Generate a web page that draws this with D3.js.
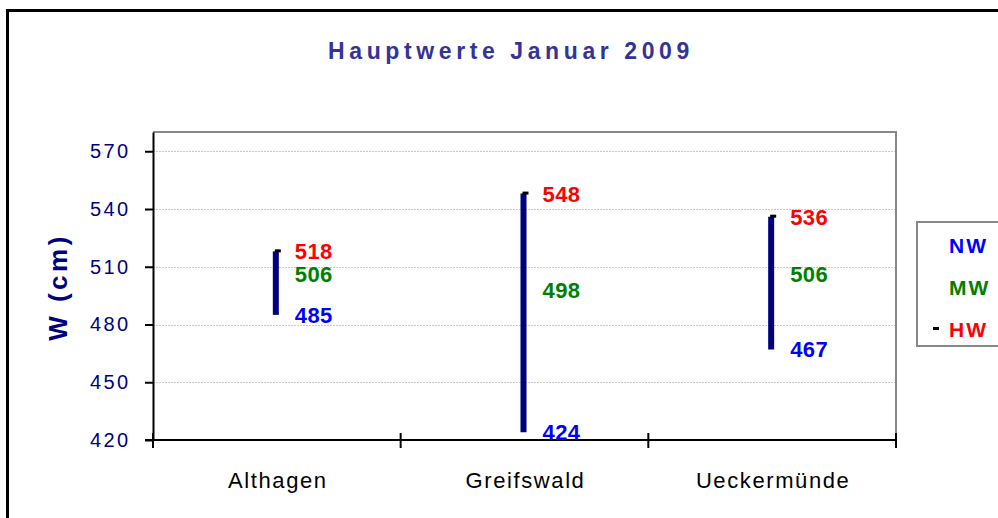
<!DOCTYPE html>
<html>
<head>
<meta charset="utf-8">
<script src="https://cdn.jsdelivr.net/npm/d3@7"></script>
<style>
  body { margin: 0; background: #fff; }
  svg { display: block; font-family: Arial, "Liberation Sans", sans-serif; }
</style>
</head>
<body>
<div id="chart_div"></div>
<script>
// data
var stations = ['Althagen', 'Greifswald', 'Ueckermünde'];
var nwValues = [485, 424, 467];   // Niedrigwasser
var mwValues = [506, 498, 506];   // Mittelwasser
var hwValues = [518, 548, 536];   // Hochwasser
var yTicks = [420, 450, 480, 510, 540, 570];
var legendLabels = ['NW', 'MW', 'HW'];
var legendColors = ['#0000ff', '#008000', '#ff0000'];

var svg_width = 998,
    svg_height = 518,
    plot_left = 153,
    plot_right = 896,
    plot_top = 132,
    plot_bottom = 440;

var svg = d3.select('#chart_div')
  .append('svg')
  .attr('width', svg_width)
  .attr('height', svg_height);

// outer chart frame (runs off the right and bottom edges)
svg.append('rect')
  .attr('x', 7.5)
  .attr('y', 10.5)
  .attr('width', 1010)
  .attr('height', 530)
  .attr('fill', 'none')
  .attr('stroke', '#000')
  .attr('stroke-width', 3);

// title
svg.append('text')
  .attr('x', 511)
  .attr('y', 59)
  .attr('text-anchor', 'middle')
  .attr('fill', '#333399')
  .style('font-size', '23px')
  .style('font-weight', 'bold')
  .style('letter-spacing', '4.6px')
  .text('Hauptwerte Januar 2009');

// scales
var x = d3.scaleBand()
  .domain(stations)
  .range([plot_left, plot_right])
  .padding(0);

var y = d3.scaleLinear()
  .domain([420, 580])
  .range([plot_bottom, plot_top]);

// plot area frame (top + right in grey)
svg.append('path')
  .attr('d', 'M' + plot_left + ',' + plot_top + 'H' + plot_right + 'V' + plot_bottom)
  .attr('fill', 'none')
  .attr('stroke', '#888')
  .attr('stroke-width', 2);

// gridlines
svg.append('g')
  .selectAll('line')
  .data(yTicks.slice(1))
  .enter().append('line')
  .attr('x1', plot_left)
  .attr('x2', plot_right - 1)
  .attr('y1', function (d) { return Math.round(y(d)) + 0.5; })
  .attr('y2', function (d) { return Math.round(y(d)) + 0.5; })
  .attr('stroke', '#c8c8c8')
  .attr('stroke-dasharray', '2,1');

// y axis
var yAxis = svg.append('g')
  .attr('transform', 'translate(' + plot_left + ',0)')
  .call(d3.axisLeft(y).tickValues(yTicks).tickSize(8).tickSizeOuter(0).tickPadding(17));
yAxis.select('.domain').attr('stroke', '#000').attr('stroke-width', 2);
yAxis.selectAll('.tick line').attr('stroke', '#000').attr('stroke-width', 2);
yAxis.selectAll('.tick text')
  .attr('fill', '#000080')
  .attr('dx', '2.3px')
  .style('font-size', '20px')
  .style('font-family', 'Arial, "Liberation Sans", sans-serif')
  .style('letter-spacing', '2.3px');

// y axis title
svg.append('text')
  .attr('transform', 'translate(67,287) rotate(-90)')
  .attr('text-anchor', 'middle')
  .attr('fill', '#000080')
  .style('font-size', '26px')
  .style('font-weight', 'bold')
  .style('letter-spacing', '3.5px')
  .text('W (cm)');

// x axis line + ticks at the band edges
var xAxis = svg.append('g');
xAxis.append('line')
  .attr('x1', plot_left - 8)
  .attr('x2', plot_right)
  .attr('y1', plot_bottom)
  .attr('y2', plot_bottom)
  .attr('stroke', '#000')
  .attr('stroke-width', 2);
var edges = stations.map(function (d) { return x(d); }).concat([x.range()[1]]);
xAxis.selectAll('line.tick')
  .data(edges)
  .enter().append('line')
  .classed('tick', true)
  .attr('x1', function (d) { return d; })
  .attr('x2', function (d) { return d; })
  .attr('y1', plot_bottom - 7)
  .attr('y2', plot_bottom + 8)
  .attr('stroke', '#000')
  .attr('stroke-width', 2);
xAxis.selectAll('text')
  .data(stations)
  .enter().append('text')
  .attr('x', function (d) { return x(d) + x.bandwidth() / 2 + 1; })
  .attr('y', 488)
  .attr('text-anchor', 'middle')
  .attr('fill', '#000')
  .style('font-size', '22px')
  .style('letter-spacing', '1.6px')
  .text(function (d) { return d; });

// high-low bars
var cx = function (i) { return x(stations[i]) + x.bandwidth() / 2 - 1; };
var bars = svg.append('g');
bars.selectAll('line')
  .data(stations)
  .enter().append('line')
  .attr('x1', function (d, i) { return cx(i); })
  .attr('x2', function (d, i) { return cx(i); })
  .attr('y1', function (d, i) { return y(nwValues[i]); })
  .attr('y2', function (d, i) { return y(hwValues[i]); })
  .attr('stroke', '#000080')
  .attr('stroke-width', 6);

// HW dash markers
bars.selectAll('rect')
  .data(stations)
  .enter().append('rect')
  .attr('x', function (d, i) { return cx(i) - 1; })
  .attr('y', function (d, i) { return y(hwValues[i]) - 2; })
  .attr('width', 6)
  .attr('height', 3)
  .attr('fill', '#000');

// data labels
var series = [nwValues, mwValues, hwValues];
series.forEach(function (vals, s) {
  svg.append('g')
    .selectAll('text')
    .data(vals)
    .enter().append('text')
    .attr('x', function (d, i) { return cx(i) + 19; })
    .attr('y', function (d) { return y(d); })
    .attr('dy', '0.36em')
    .attr('fill', legendColors[s])
    .style('font-size', '22px')
    .style('font-weight', 'bold')
    .style('letter-spacing', '0.4px')
    .text(function (d) { return d; });
});

// legend
var legend = svg.append('g')
  .classed('legend', true);
legend.append('rect')
  .attr('x', 917)
  .attr('y', 222)
  .attr('width', 100)
  .attr('height', 124)
  .attr('fill', '#fff')
  .attr('stroke', '#888')
  .attr('stroke-width', 2);
legendLabels.forEach(function (lab, i) {
  var ly = 245 + i * 42;
  legend.append('text')
    .attr('x', 949)
    .attr('y', ly)
    .attr('dy', '0.36em')
    .attr('fill', legendColors[i])
    .style('font-size', '21px')
    .style('font-weight', 'bold')
    .style('letter-spacing', '2px')
    .text(lab);
});
// only HW has a marker in the legend
legend.append('rect')
  .attr('x', 933)
  .attr('y', 245 + 2 * 42 - 2)
  .attr('width', 6)
  .attr('height', 3)
  .attr('fill', '#000');
</script>
</body>
</html>
